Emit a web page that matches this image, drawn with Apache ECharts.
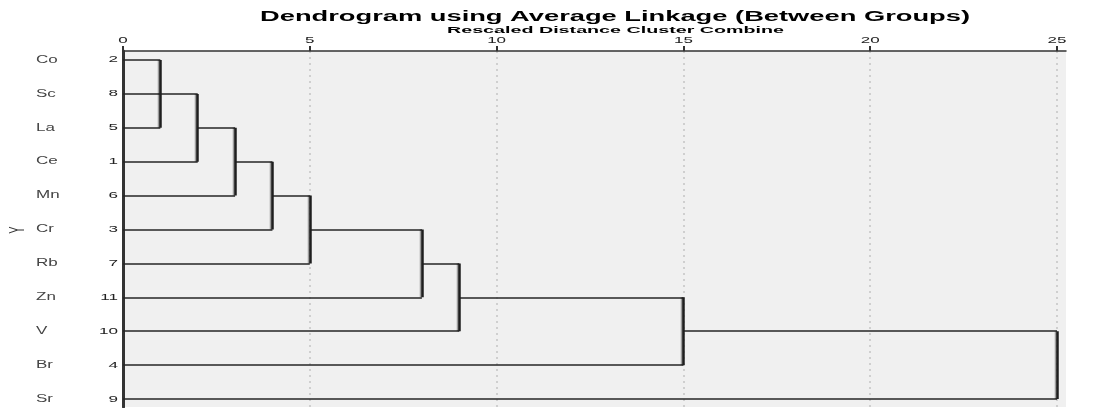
<!DOCTYPE html>
<html><head><meta charset="utf-8">
<script src="https://cdn.jsdelivr.net/npm/echarts@6/dist/echarts.min.js"></script>
<style>html,body{margin:0;padding:0;background:#fff}#c{width:1096px;height:408px}</style>
</head><body><div id="c"></div>
<script>
// Data
const elements = ['Co','Sc','La','Ce','Mn','Cr','Rb','Zn','V','Br','Sr'];
const caseNums = ['2','8','5','1','6','3','7','11','10','4','9'];
const xTicks = [0, 5, 10, 15, 20, 25];
const titleText = 'Dendrogram using Average Linkage (Between Groups)';
const subtitleText = 'Rescaled Distance Cluster Combine';
const yName = 'Y';
// horizontal segments: [row, fromDistance, toDistance]
const hSegments = [
  [0, 0, 1],
  [1, 0, 2],
  [2, 0, 1], [2, 2, 3],
  [3, 0, 2], [3, 3, 4],
  [4, 0, 3], [4, 4, 5],
  [5, 0, 4], [5, 5, 8],
  [6, 0, 5], [6, 8, 9],
  [7, 0, 8], [7, 9, 15],
  [8, 0, 9], [8, 15, 25],
  [9, 0, 15],
  [10, 0, 25]
];
// vertical segments: [distance, fromRow, toRow]
const vSegments = [
  [1, 0, 2],
  [2, 1, 3],
  [3, 2, 4],
  [4, 3, 5],
  [5, 4, 6],
  [8, 5, 7],
  [9, 6, 8],
  [15, 7, 9],
  [25, 8, 10]
];

const FF = '"Liberation Sans", Arial, sans-serif';
const measureCtx = document.createElement('canvas').getContext('2d');
function textWidth(str, font) { measureCtx.font = font; return measureCtx.measureText(str).width; }

const titleFont = 'bold 14px ' + FF;
const subFont = 'bold 9px ' + FF;
const titleScale = 710 / textWidth(titleText, titleFont);
const subScale = 337 / textWidth(subtitleText, subFont);

const chart = echarts.init(document.getElementById('c'), null, {renderer: 'canvas'});
const rowIdx = elements.map((_, i) => i);

const hData = hSegments.map(s => ({coords: [[s[1], s[0]], [s[2], s[0]]]}));
const vData = vSegments.map(s => ({coords: [[s[0], s[1]], [s[0], s[2]]]}));

const yMin = -0.265, yMax = 10.235;

chart.setOption({
  animation: false,
  backgroundColor: '#ffffff',
  graphic: [{
    type: 'text', x: 260, y: 17.5, scaleX: titleScale, silent: true,
    style: {text: titleText, font: titleFont, fill: '#000', textAlign: 'left', textVerticalAlign: 'middle', align: 'left', verticalAlign: 'middle'}
  }, {
    type: 'text', x: 447, y: 30.5, scaleX: subScale, silent: true,
    style: {text: subtitleText, font: subFont, fill: '#000', textAlign: 'left', textVerticalAlign: 'middle', align: 'left', verticalAlign: 'middle'}
  }, {
    type: 'text', x: 18, y: 230, rotation: Math.PI / 2, scaleY: 2, silent: true,
    style: {text: yName, font: '11px ' + FF, fill: '#333', textAlign: 'center', textVerticalAlign: 'middle', align: 'center', verticalAlign: 'middle'}
  }],
  grid: {left: 123, right: 30, top: 51, bottom: 1, show: true, backgroundColor: '#f0f0f0', borderWidth: 0},
  xAxis: {
    type: 'value', position: 'top', min: 0, max: 25.24, interval: 5,
    axisLine: {show: true, onZero: false, lineStyle: {color: '#333', width: 1.5}},
    axisTick: {show: true, length: 5, lineStyle: {color: '#333', width: 2}, customValues: xTicks},
    axisLabel: {show: false},
    splitLine: {show: true, lineStyle: {color: '#cfcfcf', type: [2, 4], width: 2}}
  },
  yAxis: {
    type: 'value', inverse: true, min: yMin, max: yMax,
    axisLine: {show: true, onZero: false, lineStyle: {color: '#333', width: 3}},
    axisTick: {show: false},
    splitLine: {show: false},
    axisLabel: {show: false}
  },
  series: [{
    type: 'lines', coordinateSystem: 'cartesian2d', polyline: false, silent: true,
    lineStyle: {color: '#262626', width: 1.5, opacity: 1},
    data: hData
  }, {
    type: 'lines', coordinateSystem: 'cartesian2d', polyline: false, silent: true,
    lineStyle: {color: '#1e1e1e', width: 2.5, opacity: 1, shadowColor: 'rgba(0,0,0,0.35)', shadowOffsetX: -1.5, shadowBlur: 0},
    data: vData
  }, {
    // row labels: case numbers and element names
    type: 'custom', coordinateSystem: 'cartesian2d', silent: true, clip: false,
    data: rowIdx.map(i => [0, i]),
    renderItem: function (params, api) {
      const i = params.dataIndex;
      const p = api.coord([0, api.value(1)]);
      return {
        type: 'group',
        children: [{
          type: 'text', x: p[0] - 5, y: p[1], scaleX: 1.9,
          style: {text: caseNums[i], font: '9px ' + FF, fill: '#222', textAlign: 'right', textVerticalAlign: 'middle', align: 'right', verticalAlign: 'middle'}
        }, {
          type: 'text', x: p[0] - 87, y: p[1], scaleX: 1.7,
          style: {text: elements[i], font: '10px ' + FF, fill: '#444', textAlign: 'left', textVerticalAlign: 'middle', align: 'left', verticalAlign: 'middle'}
        }]
      };
    }
  }, {
    // x tick labels
    type: 'custom', coordinateSystem: 'cartesian2d', silent: true, clip: false,
    data: xTicks.map(v => [v, yMin]),
    renderItem: function (params, api) {
      const v = api.value(0);
      const p = api.coord([v, yMin]);
      return {
        type: 'text', x: p[0], y: p[1] - 10, scaleX: 2,
        style: {text: String(v), font: '8.5px ' + FF, fill: '#222', textAlign: 'center', textVerticalAlign: 'middle', align: 'center', verticalAlign: 'middle'}
      };
    }
  }]
});
</script></body></html>
